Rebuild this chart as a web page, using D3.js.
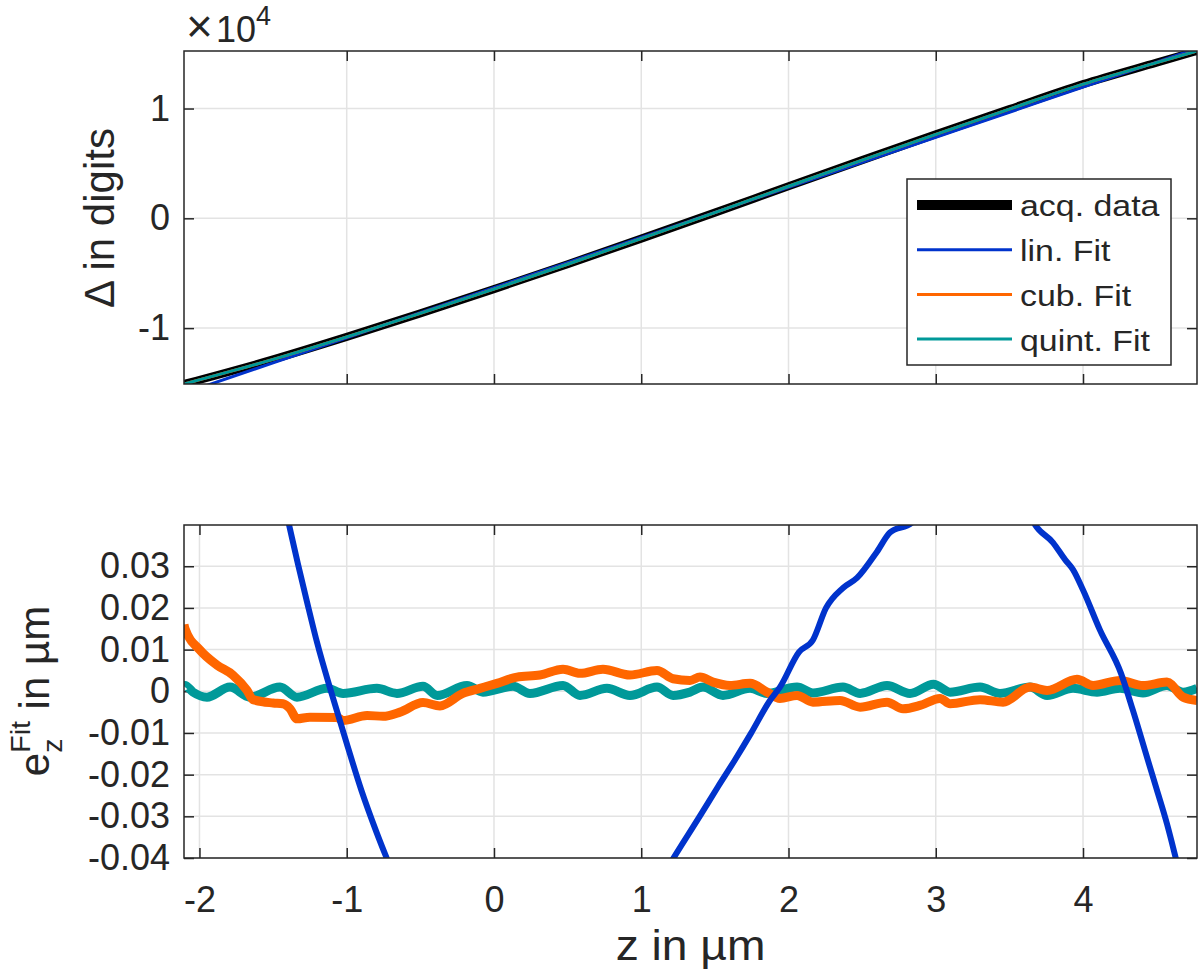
<!DOCTYPE html>
<html>
<head>
<meta charset="utf-8">
<script src="https://cdn.jsdelivr.net/npm/d3@7"></script>
<style>
  body { margin: 0; background: #fff; }
  svg { display: block; }
  text { font-family: "Liberation Sans", Arial, Helvetica, sans-serif; fill: #262626; }
</style>
</head>
<body>
<script>
// ---- data -------------------------------------------------------------
// top panel: signal Δ (in 1e4 digits) over z (µm)
const zTop = [-2.105, -1.5, -1, -0.5, 0, 0.5, 1, 1.5, 2, 2.5, 3, 3.5, 4, 4.5, 4.774];
const acqData = [-1.509, -1.285, -1.080, -0.866, -0.645, -0.418, -0.185, 0.052, 0.292, 0.530, 0.765, 0.995, 1.222, 1.418, 1.524];
const linFitTop = [-1.593, -1.316, -1.088, -0.859, -0.632, -0.403, -0.175, 0.053, 0.282, 0.510, 0.738, 0.966, 1.195, 1.423, 1.548];
const cubFitTop = [-1.509, -1.285, -1.080, -0.866, -0.645, -0.418, -0.185, 0.052, 0.292, 0.530, 0.765, 0.995, 1.222, 1.418, 1.524];
const quintFitTop = [-1.509, -1.285, -1.080, -0.866, -0.645, -0.418, -0.185, 0.052, 0.292, 0.530, 0.765, 0.995, 1.222, 1.418, 1.524];

// bottom panel: fit residuals e_z (µm)
const zLin = [-1.45, -1.392, -1.331, -1.270, -1.20, -1.10, -1.00, -0.90, -0.80, -0.727, -0.65,
  1.10, 1.216, 1.399, 1.521, 1.634, 1.745, 1.874, 1.942, 2.071, 2.166, 2.255, 2.370, 2.465, 2.601, 2.689, 2.839, 2.927,
  3.572, 3.674, 3.796, 3.878, 3.932, 4.000, 4.115, 4.258, 4.339, 4.441, 4.500, 4.570, 4.631, 4.672];
const eLin = [0.049, 0.040, 0.0305, 0.0215, 0.0115, -0.0008, -0.0125, -0.0238, -0.0336, -0.0402, -0.047,
  -0.047, -0.0402, -0.0299, -0.0229, -0.0166, -0.0101, -0.0022, 0.0010, 0.0094, 0.0123, 0.0200, 0.0248, 0.0272, 0.0335, 0.0381, 0.0405, 0.046,
  0.048, 0.0400, 0.0357, 0.0316, 0.0292, 0.0243, 0.0147, 0.0043, -0.0046, -0.0166, -0.0235, -0.0318, -0.0402, -0.0460];

const zCub = [-2.105, -2.098, -1.997, -1.881, -1.773, -1.677, -1.637, -1.50, -1.433, -1.385, -1.338, -1.25, -1.066, -1.025,
  -0.862, -0.754, -0.638, -0.482, -0.367, -0.211, -0.095, 0.020, 0.156, 0.312, 0.469, 0.584, 0.740, 0.923, 1.107, 1.216,
  1.331, 1.399, 1.487, 1.603, 1.739, 1.854, 1.942, 2.058, 2.166, 2.350, 2.486, 2.669, 2.778, 2.893, 3.029, 3.097, 3.301,
  3.457, 3.640, 3.756, 3.959, 4.068, 4.251, 4.407, 4.570, 4.679, 4.774];
const eCub = [0.0160, 0.0150, 0.0099, 0.0063, 0.0039, 0.0002, -0.0020, -0.0028, -0.0030, -0.0042, -0.0066, -0.0062, -0.0063, -0.0070,
  -0.0058, -0.0060, -0.0050, -0.0027, -0.0035, -0.0005, 0.0007, 0.0019, 0.0034, 0.0039, 0.0053, 0.0043, 0.0053, 0.0039, 0.0050, 0.0030,
  0.0026, 0.0034, 0.0022, 0.0014, 0.0019, -0.0002, -0.0017, -0.0010, -0.0026, -0.0022, -0.0038, -0.0026, -0.0042, -0.0034, -0.0017, -0.0030, -0.0020,
  -0.0026, 0.0010, 0.0002, 0.0029, 0.0014, 0.0026, 0.0014, 0.0022, -0.0014, -0.0022];

const zQuint = [-2.105, -2.098, -2.044, -1.949, -1.793, -1.657, -1.453, -1.338, -1.134, -1.025, -0.795, -0.659, -0.482, -0.385,
  -0.183, -0.075, 0.129, 0.244, 0.469, 0.584, 0.767, 0.923, 1.107, 1.216, 1.331, 1.419, 1.555, 1.739, 1.854, 2.058, 2.166,
  2.370, 2.486, 2.669, 2.825, 2.985, 3.097, 3.301, 3.436, 3.640, 3.756, 3.932, 4.095, 4.251, 4.407, 4.570, 4.679, 4.774];
const eQuint = [0.0012, 0.0014, -0.0002, -0.0014, 0.0010, -0.0014, 0.0010, -0.0014, 0.0007, -0.0005, 0.0007, -0.0005, 0.0012, -0.0010,
  0.0014, -0.0002, 0.0012, -0.0005, 0.0014, -0.0010, 0.0007, -0.0010, 0.0010, -0.0010, -0.0002, 0.0010, -0.0010, 0.0007, -0.0005, 0.0010, -0.0004,
  0.0010, -0.0005, 0.0014, -0.0005, 0.0017, -0.0002, 0.0010, -0.0005, 0.0010, -0.0010, 0.0007, -0.0002, 0.0007, -0.0004, 0.0014, -0.0002, 0.0007];

const xTicksTop = [-1, 0, 1, 2, 3, 4];
const xTicksBot = [-2, -1, 0, 1, 2, 3, 4];
const yTicksTop = [-1, 0, 1];
const yTicksBot = [-0.04, -0.03, -0.02, -0.01, 0, 0.01, 0.02, 0.03];
const legendLabels = ["acq. data", "lin. Fit", "cub. Fit", "quint. Fit"];

// ---- layout -----------------------------------------------------------
const width = 1200, height = 976;
const plotLeft = 184, plotRight = 1197;
const topPanel = { top: 51, bottom: 384 };
const botPanel = { top: 525, bottom: 858 };
const tickFont = 36, labelFont = 42, legendFont = 30;
const axisColor = "#262626", gridColor = "#e3e3e3";
const colors = { acq: "#000000", lin: "#0033cc", cub: "#ff6600", quint: "#009999" };

const svg = d3.select("body").append("svg")
  .attr("width", width)
  .attr("height", height);

const x = d3.scaleLinear().domain([-2.105, 4.774]).range([plotLeft, plotRight]);
const yTop = d3.scaleLinear().domain([-1.509, 1.524]).range([topPanel.bottom, topPanel.top]);
const yBot = d3.scaleLinear().domain([-0.04, 0.0399]).range([botPanel.bottom, botPanel.top]);

function drawPanel(panel, y, xTicks, yTicks, xLabels, yFormat, id) {
  const g = svg.append("g");
  const h = panel.bottom - panel.top;
  const w = plotRight - plotLeft;

  // grid
  g.append("g").selectAll("line").data(xTicks).enter().append("line")
    .attr("x1", d => x(d)).attr("x2", d => x(d))
    .attr("y1", panel.top).attr("y2", panel.bottom)
    .attr("stroke", gridColor).attr("stroke-width", 1.5);
  g.append("g").selectAll("line").data(yTicks).enter().append("line")
    .attr("x1", plotLeft).attr("x2", plotRight)
    .attr("y1", d => y(d)).attr("y2", d => y(d))
    .attr("stroke", gridColor).attr("stroke-width", 1.5);

  svg.append("clipPath").attr("id", id)
    .append("rect").attr("x", plotLeft).attr("y", panel.top).attr("width", w).attr("height", h);

  // axes with inward ticks
  const axes = [
    g.append("g").attr("transform", `translate(0,${panel.bottom})`)
      .call(d3.axisBottom(x).tickValues(xTicks).tickSize(-10).tickSizeOuter(0).tickPadding(28)
        .tickFormat(xLabels ? (d => String(d)) : () => "")),
    g.append("g").attr("transform", `translate(0,${panel.top})`)
      .call(d3.axisTop(x).tickValues(xTicks).tickSize(-10).tickSizeOuter(0).tickFormat(() => "")),
    g.append("g").attr("transform", `translate(${plotLeft},0)`)
      .call(d3.axisLeft(y).tickValues(yTicks).tickSize(-10).tickSizeOuter(0).tickPadding(14).tickFormat(yFormat)),
    g.append("g").attr("transform", `translate(${plotRight},0)`)
      .call(d3.axisRight(y).tickValues(yTicks).tickSize(-10).tickSizeOuter(0).tickFormat(() => ""))
  ];
  axes.forEach(a => {
    a.select(".domain").remove();
    a.selectAll(".tick line").attr("stroke", axisColor).attr("stroke-width", 1.5);
    a.selectAll(".tick text").attr("font-size", tickFont).attr("fill", axisColor)
      .style("font-family", '"Liberation Sans", Arial, sans-serif');
  });
  return g;
}

function drawBox(panel) {
  svg.append("rect")
    .attr("x", plotLeft).attr("y", panel.top)
    .attr("width", plotRight - plotLeft).attr("height", panel.bottom - panel.top)
    .attr("fill", "none").attr("stroke", axisColor).attr("stroke-width", 1.5);
}

function drawSeries(zs, vs, y, clipId, color, lw) {
  const pts = zs.map((z, i) => [z, vs[i]]);
  svg.append("path")
    .datum(pts)
    .attr("clip-path", `url(#${clipId})`)
    .attr("fill", "none")
    .attr("stroke", color)
    .attr("stroke-width", lw)
    .attr("stroke-linejoin", "round")
    .attr("d", d3.line().x(d => x(d[0])).y(d => y(d[1])).curve(d3.curveMonotoneX));
}

// ---- top panel --------------------------------------------------------
drawPanel(topPanel, yTop, xTicksTop, yTicksTop, false, d => String(d), "clipTop");
drawSeries(zTop, acqData, yTop, "clipTop", colors.acq, 8);
drawSeries(zTop, linFitTop, yTop, "clipTop", colors.lin, 3);
drawSeries(zTop, cubFitTop, yTop, "clipTop", colors.cub, 3);
drawSeries(zTop, quintFitTop, yTop, "clipTop", colors.quint, 3);
drawBox(topPanel);

// x10^4 multiplier
svg.append("text").attr("x", 186).attr("y", 42).attr("font-size", 46).text("×");
const mult = svg.append("text").attr("x", 216).attr("y", 42).attr("font-size", tickFont);
mult.append("tspan").text("10");
mult.append("tspan").attr("font-size", tickFont * 0.75).attr("dy", -17).text("4");

// legend
const legend = svg.append("g").attr("transform", "translate(907,179)");
legend.append("rect").attr("width", 264).attr("height", 186)
  .attr("fill", "#fff").attr("stroke", axisColor).attr("stroke-width", 1.5);
const legendColors = [colors.acq, colors.lin, colors.cub, colors.quint];
const legendWidths = [10, 3, 3, 3];
const row = legend.selectAll("g.row").data(legendLabels).enter().append("g")
  .attr("class", "row")
  .attr("transform", (d, i) => `translate(0,${26 + i * 44.7})`);
row.append("line").attr("x1", 10).attr("x2", 105)
  .attr("stroke", (d, i) => legendColors[i])
  .attr("stroke-width", (d, i) => legendWidths[i]);
row.append("text")
  .attr("transform", "translate(113,0) scale(1.13,1)")
  .attr("dy", "0.38em")
  .attr("font-size", legendFont).text(d => d);

// y label top
svg.append("text")
  .attr("transform", "translate(114,218) rotate(-90)")
  .attr("text-anchor", "middle")
  .attr("font-size", labelFont)
  .text("Δ in digits");

// ---- bottom panel -----------------------------------------------------
drawPanel(botPanel, yBot, xTicksBot, yTicksBot, true, v => (v === 0 ? "0" : v.toFixed(2)), "clipBot");
drawSeries(zQuint, eQuint, yBot, "clipBot", colors.quint, 9);
drawSeries(zCub, eCub, yBot, "clipBot", colors.cub, 9);
drawSeries(zLin, eLin, yBot, "clipBot", colors.lin, 6);
drawBox(botPanel);

// x label
svg.append("text")
  .attr("transform", `translate(${(plotLeft + plotRight) / 2},960) scale(1.1,1)`)
  .attr("text-anchor", "middle")
  .attr("font-size", labelFont)
  .text("z in µm");

// y label bottom: e_z^Fit in µm
const yl = svg.append("g").attr("transform", "translate(49,691) rotate(-90)");
const ylText = yl.append("text").attr("font-size", labelFont);
ylText.append("tspan").text("e");
const sub = ylText.append("tspan").attr("font-size", labelFont * 0.68).attr("dy", 13).text("z");
const subW = sub.node().getComputedTextLength();
ylText.append("tspan").attr("font-size", labelFont * 0.68).attr("dx", -subW).attr("dy", -32).text("Fit");
ylText.append("tspan").attr("dy", 19).text(" in µm");
const bb = ylText.node().getBBox();
ylText.attr("transform", `translate(${-bb.width / 2},0)`);
</script>
</body>
</html>
